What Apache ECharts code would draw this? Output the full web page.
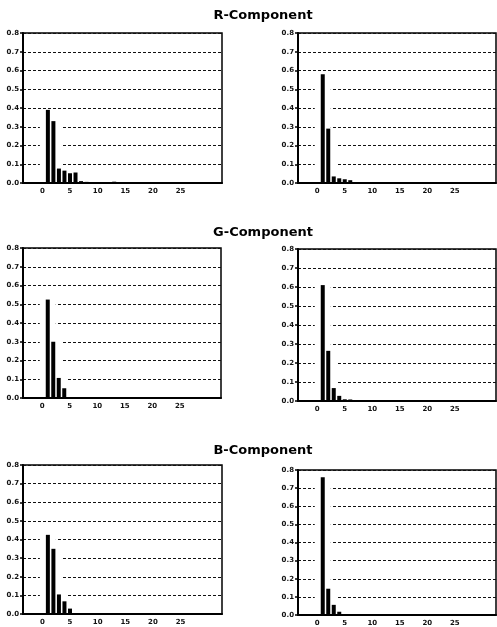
<!DOCTYPE html>
<html>
<head>
<meta charset="utf-8">
<script src="https://cdn.jsdelivr.net/npm/echarts@6/dist/echarts.min.js"></script>
<style>
  html, body { margin: 0; padding: 0; background: #fff; }
  #chart { width: 497px; height: 627px; }
</style>
</head>
<body>
<div id="chart"></div>
<script>
// histogram bins (x position of each bar)
const bins = [1, 2, 3, 4, 5, 6, 7, 8, 9, 10, 11, 12, 13, 14, 15, 16, 17, 18, 19, 20, 21];

// bar heights, one list per panel
const rLeft  = [0.39, 0.33, 0.077, 0.066, 0.052, 0.056, 0.010, 0.006, 0.004, 0.004, 0.003, 0.003, 0.007, 0.004, 0.003, 0.003, 0.003, 0.002, 0.002, 0.001, 0.000];
const rRight = [0.58, 0.29, 0.035, 0.025, 0.020, 0.015, 0.005, 0.004, 0.003, 0.003, 0.002, 0.002, 0.002, 0.002, 0.002, 0.002, 0.002, 0.002, 0.002, 0.002, 0.001];
const gLeft  = [0.525, 0.30, 0.107, 0.052, 0.003, 0.003, 0.002, 0.002, 0.002, 0.002, 0.002, 0.002, 0.002, 0.002, 0.002, 0.002, 0.002, 0.002, 0.001, 0.000, 0.000];
const gRight = [0.61, 0.264, 0.068, 0.027, 0.009, 0.008, 0.004, 0.003, 0.003, 0.003, 0.002, 0.002, 0.002, 0.002, 0.002, 0.002, 0.002, 0.002, 0.002, 0.001, 0.001];
const bLeft  = [0.425, 0.35, 0.105, 0.068, 0.029, 0.004, 0.003, 0.003, 0.002, 0.002, 0.002, 0.002, 0.002, 0.002, 0.002, 0.002, 0.002, 0.001, 0.001, 0.000, 0.000];
const bRight = [0.76, 0.145, 0.056, 0.018, 0.004, 0.002, 0.002, 0.002, 0.001, 0.001, 0.001, 0.001, 0.001, 0.001, 0.001, 0.001, 0.001, 0.001, 0.001, 0.001, 0.000];

const titles = ['R-Component', 'G-Component', 'B-Component'];
const xTickValues = [0, 5, 10, 15, 20, 25];

const panels = [
  { data: rLeft,  grid: { left: 23,  top: 33,  width: 199, height: 150 } },
  { data: rRight, grid: { left: 298, top: 33,  width: 198, height: 150 } },
  { data: gLeft,  grid: { left: 23,  top: 248, width: 198, height: 150 } },
  { data: gRight, grid: { left: 298, top: 249, width: 198, height: 152 } },
  { data: bLeft,  grid: { left: 23,  top: 465, width: 199, height: 149 } },
  { data: bRight, grid: { left: 298, top: 470, width: 198, height: 147 } }
];

const tickFont = { fontFamily: 'DejaVu Sans', fontWeight: 'bold', fontSize: 7, color: '#111' };

const grid = [];
const xAxis = [];
const yAxis = [];
const series = [];

panels.forEach((p, i) => {
  grid.push(Object.assign({ show: true, borderColor: '#000', borderWidth: 1.5, backgroundColor: 'transparent' }, p.grid));

  // visible x axis
  xAxis.push({
    type: 'value', gridIndex: i, min: -3.5, max: 32.5, z: 5,
    axisLine: { show: true, onZero: false, lineStyle: { color: '#000', width: 2 } },
    axisTick: { show: false },
    splitLine: { show: false },
    axisLabel: Object.assign({ customValues: xTickValues, margin: 5 }, tickFont)
  });
  // hidden twin axis for the white halo behind the bars
  xAxis.push({
    type: 'value', gridIndex: i, min: -3.5, max: 32.5, show: false,
    splitLine: { show: false }
  });

  yAxis.push({
    type: 'value', gridIndex: i, min: 0, max: 0.8, interval: 0.1,
    axisLine: { show: true, onZero: false, lineStyle: { color: '#000', width: 2 } },
    axisTick: { show: true, length: 3, lineStyle: { color: '#000', width: 1.5 } },
    axisLabel: Object.assign({ margin: 4, formatter: (v) => v.toFixed(1) }, tickFont),
    splitLine: { show: true, lineStyle: { color: '#111', width: 1, type: [3, 2] } }
  });

  const pairs = bins.map((b, k) => [b, p.data[k]]);

  series.push({
    type: 'bar', xAxisIndex: i * 2 + 1, yAxisIndex: i,
    data: pairs, barWidth: 16, silent: true,
    itemStyle: { color: '#fff' }
  });
  series.push({
    type: 'bar', xAxisIndex: i * 2, yAxisIndex: i,
    data: pairs, barWidth: 4,
    itemStyle: { color: '#000' }
  });
});

const titleTops = [4, 221, 439];
const title = titles.map((t, i) => ({
  text: t,
  left: 258,
  top: titleTops[i],
  textAlign: 'center',
  textStyle: { fontFamily: 'DejaVu Sans', fontWeight: 'bold', fontSize: 13, color: '#000' }
}));

const chart = echarts.init(document.getElementById('chart'), null, { renderer: 'canvas' });
chart.setOption({
  animation: false,
  backgroundColor: '#fff',
  title,
  grid,
  xAxis,
  yAxis,
  series
});
</script>
</body>
</html>
